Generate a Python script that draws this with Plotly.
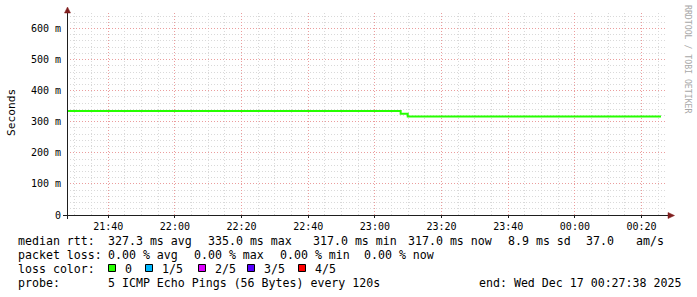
import plotly.graph_objects as go

# ---------------- data ----------------
times = ["2025-12-16 21:27:38", "2025-12-16 23:07:44", "2025-12-16 23:09:51", "2025-12-17 00:25:50"]
median_rtt_s = [0.335, 0.326, 0.317, 0.317]

x_range = ["2025-12-16 21:27:38", "2025-12-17 00:27:38"]
y_tick_vals = [0, 0.1, 0.2, 0.3, 0.4, 0.5, 0.6]
y_tick_text = ["0", "100 m", "200 m", "300 m", "400 m", "500 m", "600 m"]

rtt_items = ["median rtt:", "327.3 ms avg", "335.0 ms max", "317.0 ms min", "317.0 ms now", "8.9 ms sd", "37.0", "am/s"]
loss_items = ["packet loss:", "0.00 % avg", "0.00 % max", "0.00 % min", "0.00 % now"]
loss_labels = ["0", "1/5", "2/5", "3/5", "4/5"]
loss_colors = ["#26ff00", "#00b8ff", "#dd00ff", "#5500ff", "#ff0000"]
probe_items = ["probe:", "5 ICMP Echo Pings (56 Bytes) every 120s", "end: Wed Dec 17 00:27:38 2025"]

# ---------------- layout helpers ----------------
W, H = 697, 297
L, R, T, B = 67, 667, 13, 215


def px(x):
    return (x - L) / (R - L)


def py(y):
    return (B - y) / (B - T)


MONO = "DejaVu Sans Mono"
TXT = "#000000"
fs_leg = 11.6

fig = go.Figure()
fig.add_trace(go.Scatter(
    x=times, y=median_rtt_s, mode="lines", line=dict(color=loss_colors[0], width=2, shape="hv"),
    hoverinfo="skip", showlegend=False,
))

annotations = []
shapes = []


def text(x, y, s, size=fs_leg, color=TXT, anchor="left", angle=0, family=MONO):
    annotations.append(dict(
        x=px(x), y=py(y), xref="paper", yref="paper", text=s, showarrow=False,
        xanchor=anchor, yanchor="middle", borderpad=0, textangle=angle,
        font=dict(family=family, size=size, color=color),
    ))


# legend rows
rows_y = [241, 255, 269, 283]
rtt_x = [16.7, 107.3, 207.3, 311.7, 406.7, 506.7, 585, 635]
for s, x in zip(rtt_items, rtt_x):
    text(x, rows_y[0], s)
loss_x = [16.7, 107.3, 193.3, 279.3, 363.3]
for s, x in zip(loss_items, loss_x):
    text(x, rows_y[1], s)
text(16.7, rows_y[2], "loss color:")
sq_x = [108, 145, 198, 247, 298]
for lab, col, x in zip(loss_labels, loss_colors, sq_x):
    shapes.append(dict(type="rect", xref="paper", yref="paper",
                       x0=px(x + 0.5), x1=px(x + 7.5), y0=py(264.5), y1=py(271.5),
                       fillcolor=col, line=dict(color="#000000", width=1), layer="above"))
    text(x + 15.5, rows_y[2], lab)
text(16.7, rows_y[3], probe_items[0])
text(107.3, rows_y[3], probe_items[1])
text(478.3, rows_y[3], probe_items[2])

# y title & watermark
text(11, 113, "Seconds", size=11.2, angle=-90, anchor="center")
text(688, 59, "RRDTOOL / TOBI OETIKER", size=8.2, color="#a8a8a8", angle=90, anchor="center")

# axes lines and arrows
AX = "#1e1e1e"
ARW = "#801f1f"
shapes.append(dict(type="line", xref="paper", yref="paper", x0=px(63), x1=px(669), y0=py(215.5), y1=py(215.5),
                   line=dict(color=AX, width=1), layer="above"))
shapes.append(dict(type="line", xref="paper", yref="paper", x0=px(67.5), x1=px(67.5), y0=py(219), y1=py(11),
                   line=dict(color=AX, width=1), layer="above"))
shapes.append(dict(type="path", xref="paper", yref="paper",
                   path=f"M {px(668)},{py(212.5)} L {px(674.5)},{py(215.5)} L {px(668)},{py(218.5)} Z",
                   fillcolor=ARW, line=dict(color=ARW, width=0.5), layer="above"))
shapes.append(dict(type="path", xref="paper", yref="paper",
                   path=f"M {px(64.5)},{py(13)} L {px(67.5)},{py(7)} L {px(70.5)},{py(13)} Z",
                   fillcolor=ARW, line=dict(color=ARW, width=0.5), layer="above"))

GRID_MIN = "#d9d9d9"
GRID_MAJ = "#eb9d9d"

fig.update_layout(
    width=W, height=H,
    margin=dict(l=L, r=W - R, t=T, b=H - B, pad=0),
    paper_bgcolor="#ffffff", plot_bgcolor="#ffffff",
    showlegend=False,
    annotations=annotations, shapes=shapes,
    xaxis=dict(
        type="date", range=x_range, showline=False, zeroline=False,
        tick0="2025-12-16 00:00:00", dtick=20 * 60 * 1000, tickformat="%H:%M",
        showgrid=True, gridcolor=GRID_MAJ, griddash="1px,2px", gridwidth=1,
        ticks="outside", ticklen=2, tickcolor=AX,
        tickfont=dict(family=MONO, size=10, color=TXT),
        minor=dict(dtick=5 * 60 * 1000, tick0="2025-12-16 00:00:00", showgrid=True,
                   gridcolor=GRID_MIN, griddash="1px,2px", gridwidth=1, ticks=""),
        fixedrange=True,
    ),
    yaxis=dict(
        range=[0, 0.65], showline=False, zeroline=False,
        tickmode="array", tickvals=y_tick_vals, ticktext=y_tick_text,
        showgrid=True, gridcolor=GRID_MAJ, griddash="1px,2px", gridwidth=1,
        ticks="", ticklabelstandoff=5,
        tickfont=dict(family=MONO, size=10, color=TXT),
        minor=dict(tickmode="linear", tick0=0, dtick=0.02, showgrid=True,
                   gridcolor=GRID_MIN, griddash="1px,2px", gridwidth=1, ticks=""),
        fixedrange=True,
    ),
)

fig.write_html("out.html")
